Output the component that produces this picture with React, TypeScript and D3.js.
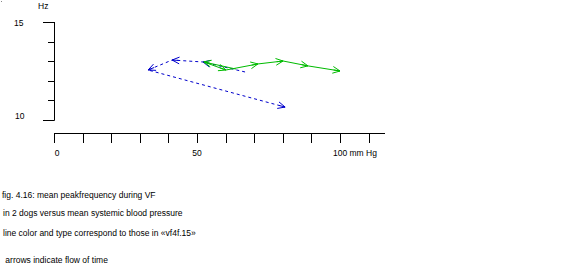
import React from "react";
import * as d3 from "d3";

const xTicks = [0, 10, 20, 30, 40, 50, 60, 70, 80, 90, 100, 110];
const yTicks = [10, 11, 12, 13, 14, 15];
const yMajor = [10, 15];

const bluePressure = [66.8, 52.1, 41.3, 32.9, 80.8];
const blueFreq = [12.45, 12.96, 13.06, 12.55, 10.66];

const greenPressure = [63.6, 52.4, 60.1, 71.3, 80.1, 88.8, 100];
const greenFreq = [12.6, 12.96, 12.55, 12.86, 13.01, 12.76, 12.5];

const captions = [
  "fig. 4.16: mean peakfrequency during VF",
  "in 2 dogs versus mean systemic blood pressure",
  "line color and type correspond to those in \u00abvf4f.15\u00bb",
  " arrows indicate flow of time",
];

const W = 578;
const H = 268;

export default function App() {
  const x = d3.scaleLinear().domain([0, 100]).range([54, 340]);
  const y = d3.scaleLinear().domain([10, 15]).range([120, 22]);
  const font = "'Liberation Sans', Arial, sans-serif";
  const fs = 8.5;

  const series = [
    { px: bluePressure, fy: blueFreq, color: "#0000cc", dash: "3,3" },
    { px: greenPressure, fy: greenFreq, color: "#00bb00", dash: "none" },
  ];

  const line = d3
    .line<[number, number]>()
    .x((d) => x(d[0]))
    .y((d) => y(d[1]));

  const arrows = (pts: [number, number][], color: string, key: string) => {
    const out: JSX.Element[] = [];
    for (let i = 1; i < pts.length; i++) {
      const x0 = x(pts[i - 1][0]);
      const y0 = y(pts[i - 1][1]);
      const x1 = x(pts[i][0]);
      const y1 = y(pts[i][1]);
      const ang = Math.atan2(y1 - y0, x1 - x0);
      const L = 8;
      const a = (25 * Math.PI) / 180;
      const p1 = [x1 - L * Math.cos(ang - a), y1 - L * Math.sin(ang - a)];
      const p2 = [x1 - L * Math.cos(ang + a), y1 - L * Math.sin(ang + a)];
      const pm = [x1 - L * 0.8 * Math.cos(ang), y1 - L * 0.8 * Math.sin(ang)];
      out.push(
        <path
          key={`${key}-${i}`}
          d={`M${p1[0]},${p1[1]}L${x1},${y1}L${p2[0]},${p2[1]}M${pm[0]},${pm[1]}L${x1},${y1}`}
          fill="none"
          stroke={color}
          strokeWidth={1}
        />
      );
    }
    return out;
  };

  return (
    <svg
      width={W}
      height={H}
      style={{ position: "absolute", left: 0, top: 0, background: "#fff" }}
    >
      <rect x={0} y={0} width={W} height={H} fill="#fff" />
      <rect x={1} y={1} width={1} height={1} fill="#888" />
      {/* Y axis */}
      <line x1={54.5} x2={54.5} y1={y(15)} y2={y(10) + 0.5} stroke="#000" />
      {yTicks.map((t) => (
        <line
          key={`yt${t}`}
          x1={yMajor.includes(t) ? 43 : 48}
          x2={54.5}
          y1={Math.round(y(t)) + 0.5}
          y2={Math.round(y(t)) + 0.5}
          stroke="#000"
        />
      ))}
      <text x={14} y={26} fontFamily={font} fontSize={fs} fill="#000">15</text>
      <text x={15} y={119} fontFamily={font} fontSize={fs} fill="#000">10</text>
      <text x={38} y={9} fontFamily={font} fontSize={fs} fill="#000">Hz</text>

      {/* X axis */}
      <line x1={54} x2={385} y1={133.5} y2={133.5} stroke="#000" />
      {xTicks.map((t) => (
        <line
          key={`xt${t}`}
          x1={Math.round(x(t)) + 0.5}
          x2={Math.round(x(t)) + 0.5}
          y1={133}
          y2={143}
          stroke="#000"
        />
      ))}
      <text x={x(0) + 3} y={156} textAnchor="middle" fontFamily={font} fontSize={fs} fill="#000">0</text>
      <text x={x(50)} y={156} textAnchor="middle" fontFamily={font} fontSize={fs} fill="#000">50</text>
      <text x={x(100) - 7} y={156} fontFamily={font} fontSize={fs} fill="#000">100 mm Hg</text>

      {/* series */}
      {series.map((s, si) => {
        const pts = s.px.map((v, i) => [v, s.fy[i]] as [number, number]);
        return (
          <g key={`s${si}`}>
            <path
              d={line(pts) || ""}
              fill="none"
              stroke={s.color}
              strokeWidth={1}
              strokeDasharray={s.dash}
            />
            {arrows(pts, s.color, `a${si}`)}
          </g>
        );
      })}

      {/* captions */}
      {captions.map((c, i) => (
        <text
          key={`c${i}`}
          x={i === 0 ? 2 : 3}
          y={[198, 216, 236, 263][i]}
          fontFamily={font}
          fontSize={fs}
          fill="#000"
          style={{ whiteSpace: "pre" }}
        >
          {c}
        </text>
      ))}
    </svg>
  );
}
